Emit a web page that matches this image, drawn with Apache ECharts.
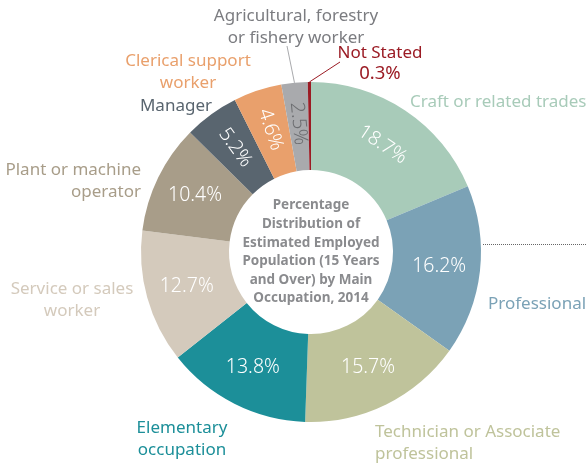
<!DOCTYPE html>
<html>
<head>
<meta charset="utf-8">
<style>
  body { margin: 0; padding: 0; background: #fff; }
  #chart { width: 586px; height: 466px; }
</style>
</head>
<body>
<div id="chart"></div>
<script src="https://cdn.jsdelivr.net/npm/echarts@6/dist/echarts.min.js"></script>
<script>
// data
const occupations = [
  'Craft or related trades', 'Professional', 'Technician or Associate professional',
  'Elementary occupation', 'Service or sales worker', 'Plant or machine operator',
  'Manager', 'Clerical support worker', 'Agricultural, forestry or fishery worker', 'Not Stated'
];
const nameLabels = [
  'Craft or related trades', 'Professional', 'Technician or Associate\nprofessional',
  'Elementary\noccupation', 'Service or sales\nworker', 'Plant or machine\noperator',
  'Manager', 'Clerical support\nworker', 'Agricultural, forestry\nor fishery worker', 'Not Stated'
];
const shares = [18.7, 16.2, 15.7, 13.8, 12.7, 10.4, 5.2, 4.6, 2.5, 0.3];
const centerTitle = 'Percentage\nDistribution of\nEstimated Employed\nPopulation (15 Years\nand Over) by Main\nOccupation, 2014';

// styling
const colors = ['#a8cbb9', '#7ba2b6', '#bfc39b', '#1c8f99', '#d4cabc', '#a89d89',
                '#59656f', '#e9a06c', '#a9aaad', '#9b1b24'];
const labelColors = ['#a8cbb9', '#7ba2b6', '#bfc39b', '#1c8f99', '#d4cabc', '#a89d89',
                     '#59656f', '#e9a06c', '#7b7c80', '#9b1b24'];
const pctRotate = ['tangential', 0, 0, 0, 0, 0, 'radial', 'radial', 'radial', 0];
const pctColor = ['#fff', '#fff', '#fff', '#fff', '#fff', '#fff', '#fff', '#fff', '#6d6e71', '#fff'];
// label anchor x, y, align
const labelSpots = [
  [410, 102, 'left'], [488, 304, 'left'], [375, 443, 'left'], [182, 439, 'center'],
  [72, 300, 'center'], [141, 181, 'right'], [212, 106, 'right'], [188, 72, 'center'],
  [296, 27, 'center'], [380, 63, 'center']
];
const leaderEnds = { 8: [287, 46], 9: [340, 62] };

const font = '"Noto Sans", "Open Sans", sans-serif';
const center = [311, 252];
const radius = [82, 170];

const pctData = occupations.map((name, i) => ({
  name: name,
  value: shares[i],
  itemStyle: { color: colors[i] },
  label: {
    show: i !== 9,
    rotate: pctRotate[i],
    color: pctColor[i]
  }
}));

const nameData = occupations.map((name, i) => ({
  name: name,
  value: shares[i],
  label: {
    color: labelColors[i],
    formatter: i === 9 ? nameLabels[i] + '\n{p|' + shares[i].toFixed(1) + '%}' : nameLabels[i]
  },
  labelLine: {
    show: leaderEnds[i] !== undefined,
    lineStyle: { color: i === 9 ? colors[9] : '#a9aaad', width: 1 }
  }
}));

var myChart = echarts.init(document.getElementById('chart'));
myChart.setOption({
  animation: false,
  backgroundColor: '#fff',
  series: [
    {
      type: 'pie',
      center: center,
      radius: radius,
      startAngle: 90,
      clockwise: true,
      avoidLabelOverlap: false,
      silent: true,
      label: {
        position: 'inside',
        fontFamily: font,
        fontSize: 19.5,
        fontWeight: 300,
        formatter: p => p.value.toFixed(1) + '%'
      },
      labelLine: { show: false },
      data: pctData
    },
    {
      type: 'pie',
      center: center,
      radius: radius,
      startAngle: 90,
      clockwise: true,
      avoidLabelOverlap: false,
      silent: true,
      z: 1,
      itemStyle: { color: 'rgba(0,0,0,0)' },
      label: {
        position: 'outside',
        fontFamily: font,
        fontSize: 17,
        lineHeight: 21.5,
        rich: { p: { fontFamily: font, fontSize: 18.5, lineHeight: 20 } }
      },
      labelLayout: function (params) {
        const i = params.dataIndex;
        const s = labelSpots[i];
        const out = { x: s[0], y: s[1], align: s[2], verticalAlign: 'middle' };
        if (leaderEnds[i] && params.labelLinePoints) {
          const p0 = params.labelLinePoints[0];
          out.labelLinePoints = [p0, p0, leaderEnds[i]];
        }
        return out;
      },
      data: nameData
    }
  ],
  graphic: [
    {
      type: 'text',
      x: center[0],
      y: center[1],
      style: {
        text: centerTitle,
        align: 'center',
        verticalAlign: 'middle',
        font: 'bold 13.5px ' + font,
        lineHeight: 18.6,
        fill: '#8a8b8e'
      }
    },
    {
      type: 'line',
      shape: { x1: 483, y1: 244.5, x2: 586, y2: 244.5 },
      style: { stroke: '#666', lineWidth: 1, lineDash: [1, 1] }
    }
  ]
});
</script>
</body>
</html>
